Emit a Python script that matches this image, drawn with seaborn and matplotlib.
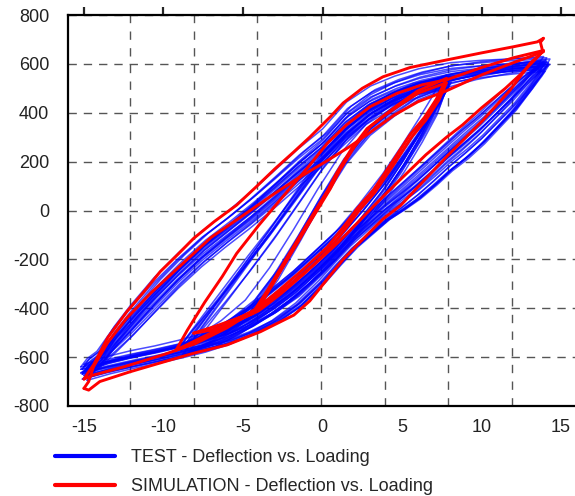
import numpy as np
import pandas as pd
import matplotlib
matplotlib.use("Agg")
import matplotlib.pyplot as plt
import seaborn as sns
from matplotlib.lines import Line2D

# ---------------- data ----------------
x_ticks = [-15, -10, -5, 0, 5, 10, 15]
y_ticks = [-800, -600, -400, -200, 0, 200, 400, 600, 800]
legend_labels = ["TEST - Deflection vs. Loading", "SIMULATION - Deflection vs. Loading"]

# TEST: large cycles - branch shapes (band edges)
big_asc_x = [-15.0, -14.6, -14.0, -13.0, -12.0, -10.5, -9.0, -7.5, -6.0, -4.5, -3.0, -1.5,
             0.0, 1.5, 3.0, 4.5, 6.0, 8.0, 10.0, 12.0, 14.0]
big_asc_y_edge1 = [-660, -620, -590, -485, -400, -285, -185, -95, -20, 62, 150, 240,
                   320, 430, 495, 535, 565, 590, 600, 606, 610]
big_asc_y_edge2 = [-660, -645, -615, -560, -500, -400, -300, -210, -130, -55, 25, 110,
                   195, 290, 380, 440, 485, 530, 565, 590, 610]
big_desc_x = [14.0, 13.6, 13.0, 12.0, 11.0, 10.0, 9.0, 8.0, 7.0, 6.0, 5.0, 4.0, 3.0, 2.0,
              1.0, 0.0, -1.5, -3.0, -4.5, -6.0, -7.5, -9.0, -10.5, -12.0, -13.5, -15.0]
big_desc_y_edge1 = [610, 560, 500, 410, 340, 270, 210, 160, 100, 45, 0, -40, -95, -150,
                    -220, -295, -390, -455, -500, -535, -560, -580, -600, -620, -640, -660]
big_desc_y_edge2 = [610, 600, 575, 520, 460, 400, 345, 285, 225, 165, 105, 45, -15, -75,
                    -140, -205, -295, -375, -440, -490, -528, -556, -580, -600, -625, -660]
# TEST: large cycles - peak points of each cycle
big_pos_x = [14.1, 13.9, 14.2, 13.7, 14.0, 13.8, 14.3, 13.6, 14.0, 13.9, 14.1, 13.8,
             14.2, 13.7, 14.0, 13.9, 14.3, 13.8, 14.1, 13.6, 14.0, 14.2, 13.9, 13.7]
big_pos_y = [625, 610, 600, 615, 590, 605, 620, 580, 600, 595, 612, 585,
             605, 590, 570, 630, 598, 575, 608, 588, 616, 592, 603, 582]
big_neg_x = [-15.1, -14.9, -15.2, -14.8, -15.0, -15.1, -14.7, -15.0, -14.9, -15.2, -14.8, -15.0,
             -15.1, -14.9, -15.0, -14.8, -15.2, -14.9, -15.1, -14.7, -15.0, -14.9, -15.1, -14.8]
big_neg_y = [-650, -670, -640, -680, -660, -690, -645, -675, -655, -665, -685, -640,
             -670, -660, -630, -695, -650, -678, -662, -642, -688, -655, -668, -648]
big_mix = [0.0, 0.55, 0.2, 0.9, 0.35, 0.7, 0.1, 1.0, 0.45, 0.8, 0.25, 0.6,
           0.05, 0.95, 0.5, 0.3, 0.75, 0.15, 0.85, 0.4, 0.65, 0.2, 0.9, 0.55]

# TEST: small cycles (upper edge stiff, lower edge pinched)
small_asc_x = [-8.5, -8.0, -7.0, -6.0, -4.5, -3.0, -1.5, 0.0, 1.5, 3.0, 4.5, 6.0, 7.8]
small_asc_y_edge1 = [-555, -505, -415, -325, -190, -60, 75, 210, 320, 400, 460, 500, 520]
small_asc_y_edge2 = [-555, -545, -520, -490, -420, -290, -130, 40, 200, 320, 400, 470, 520]
small_desc_x = [7.8, 7.2, 6.3, 5.2, 4.0, 2.5, 1.0, -0.5, -2.0, -3.5, -5.0, -6.5, -8.5]
small_desc_y_edge1 = [520, 450, 360, 255, 145, 25, -85, -175, -265, -345, -420, -485, -555]
small_desc_y_edge2 = [520, 410, 300, 180, 65, -60, -175, -265, -345, -415, -475, -525, -555]
small_pos_x = [7.9, 7.7, 8.0, 7.6, 7.8, 7.9, 7.5, 7.8, 8.1, 7.7, 7.8, 7.6, 8.0, 7.9,
               7.7, 7.8, 8.0, 7.6, 7.9, 7.8]
small_pos_y = [540, 520, 550, 505, 530, 515, 545, 500, 525, 535, 510, 540, 520, 530,
               495, 555, 515, 525, 505, 545]
small_neg_x = [-8.6, -8.3, -8.9, -8.4, -8.7, -8.2, -9.0, -8.5, -8.8, -8.3, -8.6, -8.9, -8.4, -8.7,
               -8.5, -8.2, -8.8, -8.6, -9.1, -8.4]
small_neg_y = [-560, -540, -575, -550, -585, -530, -565, -555, -590, -545, -570, -550, -580, -560,
               -535, -575, -545, -595, -565, -555]
small_mix = [0.0, 0.9, 0.1, 1.0, 0.05, 0.85, 0.15, 0.95, 0.0, 1.0, 0.2, 0.8, 0.1, 0.9,
             0.05, 0.95, 0.0, 0.85, 0.15, 1.0]

# SIMULATION paths
sim0_x = [-8.1, -6.8, -5.5, -4.1, -3.2, -2.2, -1.0, 0.5, 1.1, 2.0, 3.0, 4.0, 4.7, 6.0, 7.8,
          7.2, 6.4, 5.5, 4.4, 3.2, 2.2, 1.5, 0.3, -1.2, -2.8, -4.1, -5.8, -7.5, -9.2]
sim0_y = [-502, -475, -445, -408, -310, -200, -70, 90, 166, 260, 343, 395, 430, 490, 541,
          460, 380, 310, 200, 84, 10, -52, -150, -240, -330, -400, -460, -525, -571]
sim1_x = [-9.2, -7.6, -6.0, -4.4, -3.4, -2.4, -1.2, 0.3, 0.9, 1.8, 2.8, 3.8, 4.6, 6.0, 7.8,
          7.3, 6.5, 5.6, 4.5, 3.3, 2.3, 1.6, 0.4, -1.0, -2.6, -4.0, -5.8, -7.0, -8.1]
sim1_y = [-571, -520, -470, -420, -320, -210, -80, 80, 155, 250, 335, 385, 420, 480, 523,
          450, 370, 300, 190, 75, 0, -62, -160, -250, -340, -410, -465, -490, -502]
sim2_x = [-9.2, -8.5, -7.4, -6.3, -5.4, -4.0, -2.5, -1.0, 0.3, 1.5, 3.0, 4.7, 6.3, 7.8, 10.0,
          12.0, 13.9,
          13.4, 12.5, 11.5, 10.0, 8.8, 7.8, 6.5, 5.5, 4.0, 2.5, 1.0, -0.5, -2.0, -3.9, -6.0, -8.0,
          -10.0, -12.5, -14.5, -15.0]
sim2_y = [-571, -490, -375, -270, -176, -60, 56, 170, 275, 350, 425, 480, 515, 535, 585,
          625, 655,
          620, 560, 500, 420, 350, 300, 228, 165, 70, -30, -130, -220, -300, -394, -480, -545,
          -590, -640, -675, -690]
sim3_x = [-15.0, -14.7, -14.4, -13.5, -12.3, -11.2, -10.2, -9.1, -8.1, -6.8, -5.4, -4.2, -3.0, -1.8,
          -0.8, 0.5, 1.3, 2.5, 3.8, 5.5, 7.8, 10.0, 12.0, 13.5, 13.9,
          13.7, 13.85, 13.05, 11.8, 10.1, 7.8, 6.2, 4.9, 3.8, 2.5, 1.3, -0.8, -1.8, -3.9, -6.0,
          -8.1, -10.0, -12.1, -14.0, -14.7, -15.0]
sim3_y = [-690, -660, -632, -520, -414, -330, -250, -180, -114, -45, 22, 95, 170, 240,
          300, 384, 440, 500, 547, 585, 616, 645, 670, 690, 705,
          688, 650, 602, 493, 370, 220, 110, 20, -35, -120, -200, -370, -428, -496, -550,
          -584, -620, -660, -700, -735, -728]
sim4_x = [-15.0, -14.7, -14.4, -13.5, -12.3, -10.8, -9.0, -7.0, -4.5, -3.0, -1.4, 0.2, 1.7, 3.0,
          4.5, 6.0, 7.8, 10.0, 12.0, 13.9]
sim4_y = [-728, -700, -640, -540, -440, -338, -230, -110, 2, 70, 138, 200, 261, 320,
          390, 445, 490, 555, 605, 650]

# ---------------- build tables ----------------
def map_branch(tx, ty, start, end):
    tx = np.asarray(tx, float); ty = np.asarray(ty, float)
    sx = (end[0] - start[0]) / (tx[-1] - tx[0])
    sy = (end[1] - start[1]) / (ty[-1] - ty[0])
    return start[0] + (tx - tx[0]) * sx, start[1] + (ty - ty[0]) * sy

rows = []
def add_cycles(tag, ax_x, ay1, ay2, dx_, dy1, dy2, px, py, nx, ny, mix):
    n = len(px)
    for i in range(n):
        m = mix[i]
        ay = (1 - m) * np.asarray(ay1) + m * np.asarray(ay2)
        dy = (1 - m) * np.asarray(dy1) + m * np.asarray(dy2)
        j = (i + 1) % n
        x1, y1 = map_branch(ax_x, ay, (nx[i], ny[i]), (px[i], py[i]))
        x2, y2 = map_branch(dx_, dy, (px[i], py[i]), (nx[j], ny[j]))
        xs = np.concatenate([x1, x2[1:]]); ys = np.concatenate([y1, y2[1:]])
        for k, (a, b) in enumerate(zip(xs, ys)):
            rows.append({"x": a, "y": b, "unit": f"{tag}{i}", "k": k})

add_cycles("big", big_asc_x, big_asc_y_edge1, big_asc_y_edge2, big_desc_x, big_desc_y_edge1,
           big_desc_y_edge2, big_pos_x, big_pos_y, big_neg_x, big_neg_y, big_mix)
add_cycles("small", small_asc_x, small_asc_y_edge1, small_asc_y_edge2, small_desc_x,
           small_desc_y_edge1, small_desc_y_edge2, small_pos_x, small_pos_y, small_neg_x,
           small_neg_y, small_mix)
test_df = pd.DataFrame(rows)

sim_rows = []
for name, xs, ys in [("s0", sim0_x, sim0_y), ("s1", sim1_x, sim1_y), ("s2", sim2_x, sim2_y),
                     ("s3", sim3_x, sim3_y), ("s4", sim4_x, sim4_y)]:
    for k, (a, b) in enumerate(zip(xs, ys)):
        sim_rows.append({"x": a, "y": b, "unit": name, "k": k})
sim_df = pd.DataFrame(sim_rows)

# ---------------- plot ----------------
sns.set_style("white")
plt.rcParams["font.family"] = ["Liberation Sans", "DejaVu Sans"]
plt.rcParams["axes.unicode_minus"] = False

fig = plt.figure(figsize=(5.75, 4.96), dpi=100)
ax = fig.add_axes([68 / 575, 1 - 406 / 496, 509 / 575, 391 / 496])

sns.lineplot(data=test_df, x="x", y="y", units="unit", estimator=None, sort=False,
             color="#0000ff", lw=1.1, alpha=0.7, ax=ax, legend=False, zorder=3)
sns.lineplot(data=sim_df, x="x", y="y", units="unit", estimator=None, sort=False,
             color="#ff0000", lw=2.1, ax=ax, legend=False, zorder=4)

ax.set_xlim(-16, 16)
ax.set_ylim(-800, 800)
ax.set_xticks(x_ticks)
ax.set_xticklabels([str(v) for v in x_ticks])
ax.set_yticks(y_ticks)
ax.set_yticklabels([str(v) for v in y_ticks])
ax.set_xlabel("")
ax.set_ylabel("")

grid_x = [-12.1, -8.1, -4.1, -0.1, 3.9, 7.9, 11.9]
ax.set_xticks(grid_x, minor=True)
ax.tick_params(which="minor", length=0)
ax.xaxis.grid(True, which="minor", ls=(0, (6, 6)), color="#555555", lw=1.0, zorder=0)
ax.xaxis.grid(False, which="major")
ax.yaxis.grid(True, which="major", ls=(0, (6, 5)), color="#555555", lw=1.0, zorder=0)
ax.set_axisbelow(True)

for s in ["left", "bottom", "top"]:
    ax.spines[s].set_visible(True)
    ax.spines[s].set_color("black")
    ax.spines[s].set_linewidth(1.6)
ax.spines["right"].set_visible(False)

ax.tick_params(axis="x", which="major", direction="out", length=5.5, width=1.6, top=True,
               labeltop=False, labelsize=13, labelcolor="#222222", pad=4)
ax.tick_params(axis="y", which="major", direction="out", length=6.5, width=1.6,
               labelsize=13, labelcolor="#222222", pad=7)

handles = [Line2D([], [], color="#0000ff", lw=3), Line2D([], [], color="#ff0000", lw=3)]
fig.legend(handles, legend_labels, loc="upper left", bbox_to_anchor=(55 / 575, 1 - 449 / 496),
           frameon=False, fontsize=13, handlelength=3.3, handletextpad=0.9,
           labelspacing=0.68, borderaxespad=0, borderpad=0)

fig.savefig("out.png", dpi=100)
